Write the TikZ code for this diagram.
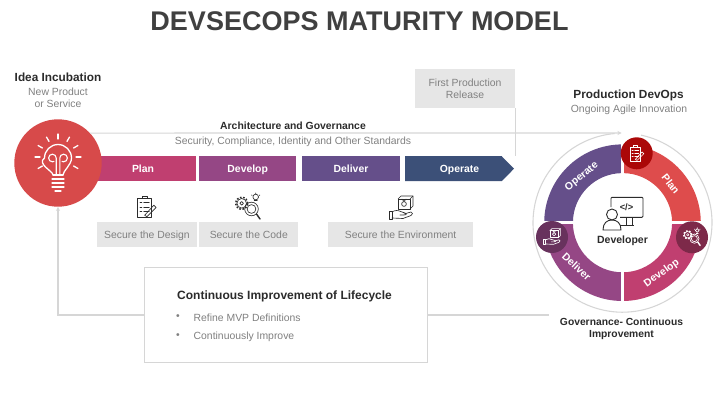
\documentclass[tikz,border=0pt]{standalone}
\usepackage{fontspec}
\setmainfont{Liberation Sans}
\usepackage{xcolor}
\usetikzlibrary{arrows.meta, calc, positioning}

\definecolor{planred}{HTML}{DE4C4C}
\definecolor{planpink}{HTML}{C03F70}
\definecolor{developmag}{HTML}{954785}
\definecolor{deliverpur}{HTML}{654F8A}
\definecolor{operateblue}{HTML}{3C5078}
\definecolor{softgray}{HTML}{E6E6E6}
\definecolor{linegray}{HTML}{D6D6D6}
\definecolor{textgray}{HTML}{808080}
\definecolor{inkdark}{HTML}{2B2B2B}

\tikzset{
    headtext/.style={font=\bfseries\fontsize{11.8}{12}\selectfont, text=inkdark, inner sep=0pt, align=center},
    subtext/.style={font=\fontsize{10.4}{12}\selectfont, text=textgray, inner sep=0pt, align=center},
    stagebox/.style={font=\bfseries\fontsize{10.4}{12}\selectfont, text=white, inner sep=0pt, minimum height=25pt, text height=7.5pt, text depth=0pt},
    securebox/.style={fill=softgray, font=\fontsize{10.4}{12}\selectfont, text=textgray, inner sep=0pt, minimum height=24.7pt, text height=7.5pt, text depth=0pt},
    flowline/.style={draw=linegray, line width=1.1pt},
    ringtext/.style={font=\bfseries\fontsize{10.4}{12}\selectfont, text=white, inner sep=0pt},
    iconline/.style={line width=0.65pt, line join=round, line cap=round},
    clipicon/.pic={
        \draw[iconline] (-9.5,-11.5) rectangle (5.5,9.5);
        \draw[iconline] (-5,9.5) -- (-5,12) -- (1,12) -- (1,9.5);
        \foreach \ypos in {5,0,-5} {
            \draw[iconline] (-7,\ypos) -- (-5,\ypos);
            \draw[iconline] (-3,\ypos) -- (3,\ypos);
        }
        \draw[iconline] (-2,-9) -- (8,2) -- (10.5,-0.5) -- (0.5,-10.5) -- cycle;
    },
    gearicon/.pic={
        \draw[iconline] (-6.3,3.7) circle (4.8);
        \draw[line width=1.5pt, dash pattern=on 1.6pt off 1.6pt] (-6.3,3.7) circle (6);
        \draw[iconline] (-6.3,3.7) circle (1.8);
        \draw[iconline] (3.5,-2) circle (6.8);
        \draw[iconline] (3.5,-2) circle (4.4);
        \draw[line width=1.4pt, line cap=round] (8.5,-7) -- (12,-12);
        \draw[iconline] (7.7,10) circle (2.8);
        \draw[iconline] (6.2,6.3) -- (9.2,6.3);
        \draw[iconline] (7.7,13.2) -- (7.7,14) (4.2,11.5) -- (3.5,12) (11.2,11.5) -- (11.9,12);
    },
    handicon/.pic={
        \draw[iconline] (-3,-1) -- (-3,9) -- (9,9) -- (9,-1) -- cycle;
        \draw[iconline] (-3,9) -- (0,12) -- (12,12) -- (12,2) -- (9,-1);
        \draw[iconline] (9,9) -- (12,12);
        \draw[iconline] (3,4) circle (2.4);
        \draw[iconline] (1,9) -- (3,6.5) -- (5,9);
        \draw[iconline] (-12,-11) rectangle (-9,-3);
        \draw[iconline] (-9,-4) .. controls (-6,-2) and (-3,-2) .. (1,-4) -- (4,-5) .. controls (6,-5) and (6,-7) .. (3,-7) -- (-1,-7);
        \draw[iconline] (3,-6) -- (10,-4) .. controls (12,-4) and (12,-7) .. (10,-7.5) -- (2,-10.5) -- (-9,-10);
    }
}

\begin{document}
\begin{tikzpicture}[>=Stealth, x=1pt, y=1pt]
    \useasboundingbox (0,0) rectangle (720,405);

    % title
    \node[font=\bfseries\fontsize{27}{30}\selectfont, text=black!75, inner sep=0pt] (title) at (359.5,384) {DEVSECOPS MATURITY MODEL};

    % stages
    \node[stagebox, fill=planpink, minimum width=106pt] (plan) at (143,236.3) {Plan};
    \node[stagebox, fill=developmag, minimum width=96.7pt] (develop) at (247.7,236.3) {Develop};
    \node[stagebox, fill=deliverpur, minimum width=97.4pt] (deliver) at (351,236.3) {Deliver};
    \fill[operateblue] (405,223.8) -- (501.7,223.8) -- (514,236.3) -- (501.7,248.8) -- (405,248.8) -- cycle;
    \node[stagebox] (operate) at (459.5,236.3) {Operate};

    % left column
    \node[circle, fill=planred!97!black, minimum size=87.4pt, inner sep=0pt] (incub) at (58,242) {};
    \node[headtext] (ideatitle) at (58,328) {Idea Incubation};
    \node[subtext] (ideasub) at (58,307) {New Product\\or Service};

    % bulb
    \draw[white, line width=1.3pt, line cap=round] ($(incub)+(-5,-12)$) .. controls +(0,4) and +(-8,-6) .. ($(incub)+(-13.5,5)$) arc[start angle=180, end angle=0, radius=13.5] .. controls +(0,-7) and +(0,4) .. ($(incub)+(5,-12)$);
    \draw[white, line width=1.3pt, line cap=round] ($(incub)+(-5,-12)$) -- ($(incub)+(5,-12)$) ($(incub)+(-6,-16)$) -- ($(incub)+(6,-16)$) ($(incub)+(-6,-20)$) -- ($(incub)+(6,-20)$) ($(incub)+(-6,-24)$) -- ($(incub)+(6,-24)$) ($(incub)+(-3,-28)$) -- ($(incub)+(3,-28)$);
    \draw[white, line width=1.1pt] ($(incub)+(-1.8,-12)$) -- ($(incub)+(-1.8,5)$) arc[start angle=0, end angle=300, radius=3.8];
    \draw[white, line width=1.1pt] ($(incub)+(1.8,-12)$) -- ($(incub)+(1.8,5)$) arc[start angle=180, end angle=-120, radius=3.8];
    \foreach \ang in {0,30,60,90,120,150,180,210,330} {
        \draw[white, line width=1.3pt, line cap=round] ($(incub)+(0,6)+(\ang:18)$) -- ($(incub)+(0,6)+(\ang:23)$);
    }

    % release box and the lines
    \node[fill=softgray, font=\fontsize{10.4}{12}\selectfont, text=textgray, align=center, minimum width=100pt, minimum height=39pt, inner sep=0pt] (release) at (465,316.3) {First Production\\Release};
    \coordinate (archend) at (621.5,272);
    \coordinate (govend) at (549,90);
    \draw[flowline, ->, >={Stealth[length=4pt, width=4pt]}] (incub.43) -- (archend);
    \draw[flowline] (release.south east) -- (release.south east |- operate.north);
    \node[headtext, font=\bfseries\fontsize{10.4}{12}\selectfont] (archtext) at (293,279.5) {Architecture and Governance};
    \node[subtext] (stdtext) at (293,262.8) {Security, Compliance, Identity and Other Standards};

    % secure boxes
    \node[securebox, minimum width=99.4pt] (sdesign) at (147,170.6) {Secure the Design};
    \node[securebox, minimum width=99pt] (scode) at (248.8,170.6) {Secure the Code};
    \node[securebox, minimum width=144.7pt] (senv) at (400.6,170.6) {Secure the Environment};
    \pic[inkdark, scale=0.92] at (146.5,198) {clipicon};
    \pic[inkdark] at (248,198) {gearicon};
    \pic[inkdark] at (401,197) {handicon};

    % improvement box
    \node[draw=linegray, line width=1.1pt, fill=white, minimum width=282.5pt, minimum height=94.5pt, inner sep=0pt] (improve) at (285.8,90) {};
    \node[headtext, font=\bfseries\fontsize{12}{13}\selectfont, anchor=west] (imptitle) at (177,108.7) {Continuous Improvement of Lifecycle};
    \node[subtext, anchor=base west] (impone) at (193.5,84) {Refine MVP Definitions};
    \node[subtext, anchor=base west] (imptwo) at (193.5,65.3) {Continuously Improve};
    \node[subtext, anchor=center] (dotone) at (178,88) {•};
    \node[subtext, anchor=center] (dottwo) at (178,69) {•};
    \draw[flowline, ->, >={Stealth[length=4pt, width=4pt]}] (improve.west) -| (incub.south);
    \draw[flowline] (improve.east) -- (govend);

    % ring
    \coordinate (ring) at (622.5,182.3);
    \draw[linegray, line width=1.1pt] ($(ring)+(78:89.5)$) arc[start angle=78, end angle=-265, radius=89.5];
    \foreach \ang/\col in {0/planred, -90/planpink, 180/developmag, 90/deliverpur} {
        \fill[\col] ($(ring)+(\ang:78.3)$) arc[start angle=\ang, delta angle=90, radius=78.3] -- ($(ring)+(\ang+90:49.6)$) arc[start angle=\ang+90, delta angle=-90, radius=49.6] -- cycle;
    }
    \draw[white, line width=3.3pt] ($(ring)+(-80,0)$) -- ($(ring)+(80,0)$);
    \draw[white, line width=3.3pt] ($(ring)+(0,-80)$) -- ($(ring)+(0,80)$);
    \node[ringtext, rotate=-52] (ringplan) at (670.7,221) {Plan};
    \node[ringtext, rotate=36] (ringdevelop) at (661.7,131.7) {Develop};
    \node[ringtext, rotate=-43] (ringdeliver) at (576.7,138.3) {Deliver};
    \node[ringtext, rotate=39] (ringoperate) at (581.7,228.3) {Operate};

    % ring badges
    \node[circle, fill=red!65!black!90!planred, minimum size=32pt, inner sep=0pt] (badgeplan) at (636.7,251.7) {};
    \node[circle, fill=planpink!65!black, minimum size=32pt, inner sep=0pt] (badgedevelop) at (692,167.7) {};
    \node[circle, fill=developmag!70!black, minimum size=32pt, inner sep=0pt] (badgedeliver) at (552,168) {};
    \pic[white, scale=0.68] at (badgeplan) {clipicon};
    \pic[white, scale=0.68] at (badgedevelop) {gearicon};
    \pic[white, scale=0.7] at (badgedeliver) {handicon};

    % developer
    \draw[inkdark, line width=0.9pt, rounded corners=1pt] (611,198) -- (611,207.7) -- (643,207.7) -- (643,187.7) -- (620,187.7);
    \draw[inkdark, line width=0.9pt] (626,187.7) -- (626,180) (632,187.7) -- (632,180) (620,179.5) -- (634,179.5);
    \node[circle, draw=inkdark, fill=white, line width=0.9pt, minimum size=11pt, inner sep=0pt] (devhead) at (612,190.5) {};
    \draw[inkdark, line width=0.9pt, line join=round] (603,175) .. controls (603,182) and (607,185) .. (612,185) .. controls (617,185) and (621,182) .. (621,175) -- cycle;
    \node[font=\bfseries\fontsize{9.3}{12}\selectfont, text=inkdark, inner sep=0pt] (codemark) at (626.5,197.5) {</>};
    \node[headtext, font=\bfseries\fontsize{10.5}{12}\selectfont] (devlabel) at (622.5,164) {Developer};

    % right labels
    \node[headtext] (prodtitle) at (628.5,309.5) {Production DevOps};
    \node[subtext] (prodsub) at (629,295) {Ongoing Agile Innovation};
    \node[headtext, font=\bfseries\fontsize{10.3}{11.8}\selectfont] (govtext) at (621.5,76.5) {Governance- Continuous\\Improvement};
\end{tikzpicture}
\end{document}
